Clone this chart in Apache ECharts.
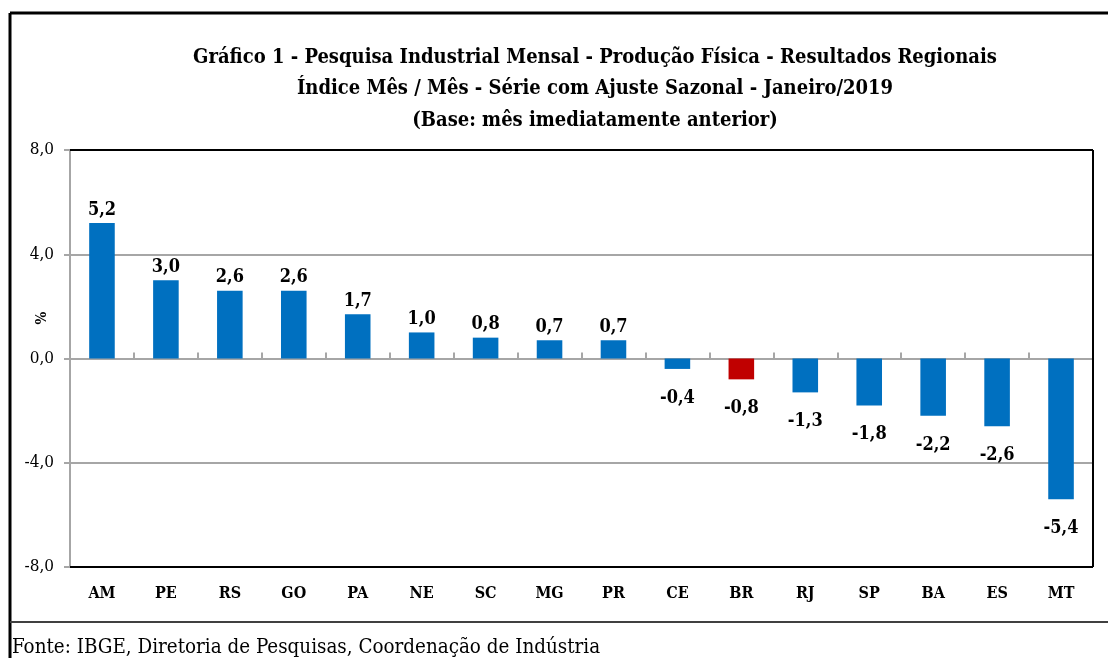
<!DOCTYPE html>
<html>
<head>
<meta charset="utf-8">
<script src="https://cdn.jsdelivr.net/npm/echarts@6/dist/echarts.min.js"></script>
<style>
  html, body { margin: 0; padding: 0; background: #fff; }
  #main { width: 1108px; height: 658px; }
</style>
</head>
<body>
<div id="main"></div>
<script>
// categories and values
var regioes = ['AM', 'PE', 'RS', 'GO', 'PA', 'NE', 'SC', 'MG', 'PR', 'CE', 'BR', 'RJ', 'SP', 'BA', 'ES', 'MT'];
var variacao = [5.2, 3.0, 2.6, 2.6, 1.7, 1.0, 0.8, 0.7, 0.7, -0.4, -0.8, -1.3, -1.8, -2.2, -2.6, -5.4];
var yTicks = [-8, -4, 0, 4, 8];

var serif = '"DejaVu Serif Condensed", "Liberation Serif", serif';
var azul = '#0070C0';
var vermelho = '#C00000';

function virgula(v) {
  return v.toFixed(1).replace('.', ',');
}

var gLeft = 70, gTop = 150, gRight = 1093, gBottom = 567;

var barras = variacao.map(function (v, i) {
  return {
    value: v,
    itemStyle: { color: regioes[i] === 'BR' ? vermelho : azul },
    label: v < 0 ? { position: 'bottom', distance: 20 } : { position: 'top', distance: 4 }
  };
});

var myChart = echarts.init(document.getElementById('main'));
var option = {
  animation: false,
  title: {
    text: 'Gráfico 1 - Pesquisa Industrial Mensal - Produção Física - Resultados Regionais\n' +
          'Índice Mês / Mês - Série com Ajuste Sazonal - Janeiro/2019\n' +
          '(Base: mês imediatamente anterior)',
    left: 590,
    textAlign: 'center',
    top: 37,
    textStyle: { fontFamily: serif, fontWeight: 'bold', fontSize: 20, lineHeight: 31.5, color: '#000' }
  },
  grid: { left: gLeft, top: gTop, width: gRight - gLeft, height: gBottom - gTop },
  xAxis: [
    {
      type: 'category',
      data: regioes,
      position: 'bottom',
      axisLine: { show: false, onZero: false },
      axisTick: { show: false },
      axisLabel: { margin: 19, fontFamily: serif, fontWeight: 'bold', fontSize: 16, color: '#000' }
    },
    {
      type: 'category',
      data: regioes,
      axisLine: { show: true, onZero: true, lineStyle: { color: '#a6a6a6', width: 2 } },
      axisTick: { show: true, length: 6, inside: false, lineStyle: { color: '#a6a6a6', width: 2 } },
      axisLabel: { show: false }
    }
  ],
  yAxis: {
    type: 'value',
    min: yTicks[0],
    max: yTicks[yTicks.length - 1],
    interval: 4,
    axisLine: { show: true, lineStyle: { color: '#a6a6a6', width: 2 } },
    axisTick: { show: true, length: 6, lineStyle: { color: '#a6a6a6', width: 2 } },
    splitLine: { lineStyle: { color: '#a6a6a6', width: 2 } },
    axisLabel: {
      margin: 16,
      fontFamily: serif,
      fontSize: 17,
      color: '#000',
      formatter: function (v) { return virgula(v); }
    }
  },
  series: [{
    type: 'bar',
    xAxisIndex: 0,
    barWidth: '40%',
    data: barras,
    label: {
      show: true,
      fontFamily: serif,
      fontWeight: 'bold',
      fontSize: 18,
      color: '#000',
      formatter: function (p) { return virgula(p.value); }
    }
  }],
  graphic: [
    // moldura externa
    { type: 'line', z: 100, shape: { x1: 10, y1: 13, x2: 1108, y2: 13 }, style: { stroke: '#000', lineWidth: 3 } },
    { type: 'line', z: 100, shape: { x1: 10, y1: 13, x2: 10, y2: 658 }, style: { stroke: '#000', lineWidth: 3 } },
    { type: 'line', z: 100, shape: { x1: 10, y1: 622, x2: 1108, y2: 622 }, style: { stroke: '#404040', lineWidth: 2 } },
    // borda preta da área do gráfico
    { type: 'line', z: 100, shape: { x1: gLeft, y1: gTop, x2: gRight, y2: gTop }, style: { stroke: '#000', lineWidth: 2 } },
    { type: 'line', z: 100, shape: { x1: gRight, y1: gTop, x2: gRight, y2: gBottom }, style: { stroke: '#000', lineWidth: 2 } },
    { type: 'line', z: 100, shape: { x1: gLeft, y1: gBottom, x2: gRight, y2: gBottom }, style: { stroke: '#000', lineWidth: 2 } },
    {
      type: 'text', z: 100, x: 42, y: 318, rotation: Math.PI / 2,
      style: { text: '%', fontFamily: serif, fontWeight: 'bold', fontSize: 15, fill: '#000', align: 'center', verticalAlign: 'middle' }
    },
    {
      type: 'text', z: 100, left: 12, top: 638,
      style: { text: 'Fonte: IBGE, Diretoria de Pesquisas, Coordenação de Indústria', fontFamily: serif, fontSize: 20.4, fill: '#000' }
    }
  ]
};
myChart.setOption(option);
</script>
</body>
</html>
